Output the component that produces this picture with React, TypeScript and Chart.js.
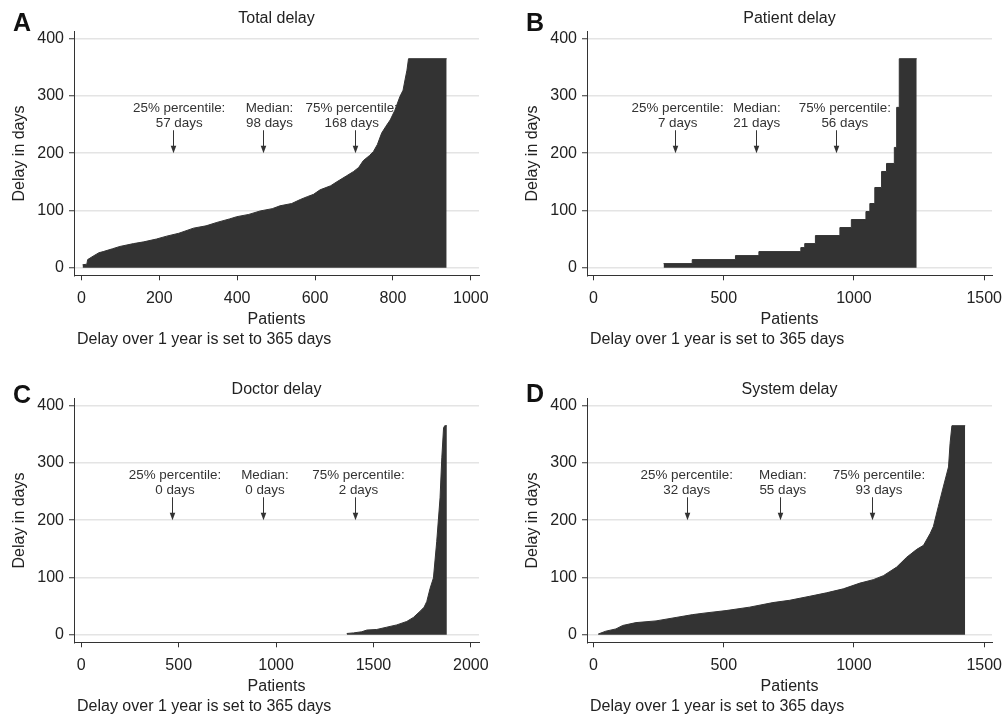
import React, { useEffect, useRef } from "react";
import { Chart, registerables } from "chart.js";

Chart.register(...registerables);

const FONT = "'Liberation Sans', Arial, Helvetica, sans-serif";
Chart.defaults.font.family = FONT;

// ---------- data ----------
const yTicks = [0, 100, 200, 300, 400];

const totalX = [3, 14, 16, 30, 45, 56, 80, 99, 134, 160, 193, 219, 250, 288, 320, 348, 380, 399, 430, 459, 490, 510, 540, 562, 580, 596, 613, 640, 656, 680, 699, 712, 724, 740, 750, 760, 771, 782, 793, 805, 818, 826, 831, 836, 840, 938];
const totalY = [5, 6, 14, 20, 26, 28, 33, 37, 42, 45, 50, 55, 60, 69, 73, 79, 85, 89, 93, 99, 103, 108, 112, 119, 124, 128, 136, 143, 150, 160, 168, 175, 187, 196, 203, 215, 235, 247, 258, 275, 299, 310, 328, 345, 365, 365];
const totalTicks = [0, 200, 400, 600, 800, 1000];
const totalArrowX = [234, 467, 702];
const totalLabelX = [251, 483, 694];
const totalValues = ["57 days", "98 days", "168 days"];

const patientX = [269, 379, 545, 635, 796, 811, 852, 946, 990, 1046, 1061, 1080, 1106, 1125, 1155, 1164, 1174, 1241];
const patientY = [7, 14, 21, 28, 35, 42, 56, 70, 84, 98, 112, 140, 168, 182, 210, 280, 365, 365];
const patientTicks = [0, 500, 1000, 1500];
const patientArrowX = [313, 622, 930];
const patientLabelX = [323, 627, 965];
const patientValues = ["7 days", "21 days", "56 days"];

const doctorX = [1363, 1397, 1440, 1466, 1517, 1568, 1620, 1671, 1705, 1740, 1760, 1774, 1791, 1808, 1825, 1842, 1851, 1860, 1866, 1877];
const doctorY = [2, 3, 5, 8, 9, 13, 17, 23, 30, 41, 48, 58, 81, 99, 163, 239, 309, 361, 365, 365];
const doctorTicks = [0, 500, 1000, 1500, 2000];
const doctorArrowX = [466, 935, 1404];
const doctorLabelX = [481, 943, 1423];
const doctorValues = ["0 days", "0 days", "2 days"];

const systemX = [18, 47, 86, 112, 163, 240, 317, 381, 432, 509, 599, 689, 753, 830, 894, 959, 1023, 1074, 1113, 1164, 1202, 1241, 1267, 1293, 1305, 1324, 1343, 1363, 1369, 1376, 1427];
const systemY = [1, 6, 10, 16, 21, 24, 30, 35, 38, 42, 48, 56, 60, 67, 73, 80, 90, 96, 103, 118, 135, 149, 156, 177, 189, 224, 258, 293, 334, 365, 365];
const systemTicks = [0, 500, 1000, 1500];
const systemArrowX = [359, 715, 1070];
const systemLabelX = [358, 727, 1096];
const systemValues = ["32 days", "55 days", "93 days"];

const percentileNames = ["25% percentile:", "Median:", "75% percentile:"];
const arrowTopValue = 240;
const arrowTipValue = 200;
const footnote = "Delay over 1 year is set to 365 days";

// ---------- layout ----------
const CW = 489;
const CH = 351;
const CHART_TOP = 31.7;
const CHART_BOTTOM = 275.3;
const FS = 16;

type PanelProps = {
  letter: string;
  title: string;
  xs: number[];
  ys: number[];
  stepped: boolean;
  xMin: number;
  xMax: number;
  xTicks: number[];
  arrowX: number[];
  labelX: number[];
  values: string[];
  ox: number;
  oy: number;
  titleTop: number;
  letterTop: number;
};

function Panel(p: PanelProps) {
  const ref = useRef<HTMLCanvasElement | null>(null);
  useEffect(() => {
    if (!ref.current) return;
    const annot = {
      id: "percentiles",
      afterDatasetsDraw(chart: any) {
        const { ctx, scales } = chart;
        const xs = scales.x;
        const ysc = scales.y;
        ctx.save();
        const top = ysc.getPixelForValue(arrowTopValue);
        const tip = ysc.getPixelForValue(arrowTipValue);
        for (let i = 0; i < p.arrowX.length; i++) {
          const ax = Math.round(xs.getPixelForValue(p.arrowX[i])) + 0.5;
          ctx.strokeStyle = "#333";
          ctx.fillStyle = "#333";
          ctx.lineWidth = 1;
          ctx.beginPath();
          ctx.moveTo(ax, top);
          ctx.lineTo(ax, tip - 3);
          ctx.stroke();
          ctx.beginPath();
          ctx.moveTo(ax, tip);
          ctx.lineTo(ax - 2.8, tip - 7.5);
          ctx.lineTo(ax + 2.8, tip - 7.5);
          ctx.closePath();
          ctx.fill();
          const lx = xs.getPixelForValue(p.labelX[i]);
          ctx.font = `13.4px ${FONT}`;
          ctx.textAlign = "center";
          ctx.textBaseline = "middle";
          ctx.fillStyle = "#333";
          const l2 = top - 7;
          const l1 = l2 - 14.5;
          ctx.fillText(percentileNames[i], lx, l1);
          ctx.fillText(p.values[i], lx, l2);
        }
        ctx.restore();
      },
    };
    const lh = FS * 1.2;
    const titleBottom = CHART_TOP - p.titleTop - lh;
    const tickFont = { family: FONT, size: FS, lineHeight: 1.2 };
    const chart = new Chart(ref.current, {
      type: "line",
      data: {
        datasets: [
          {
            data: p.xs.map((x, i) => ({ x, y: p.ys[i] })),
            borderColor: "#333",
            backgroundColor: "#333",
            borderWidth: 1,
            pointRadius: 0,
            fill: "origin",
            stepped: p.stepped ? "before" : false,
            tension: 0,
          },
        ],
      },
      options: {
        animation: false,
        responsive: false,
        maintainAspectRatio: false,
        layout: { padding: { left: 0, right: 10, top: 0, bottom: CH - CHART_BOTTOM - 54.7 } },
        plugins: {
          legend: { display: false },
          tooltip: { enabled: false },
          title: {
            display: true,
            text: p.title,
            fullSize: false,
            color: "#222",
            font: { family: FONT, size: FS, weight: "normal", lineHeight: 1.2 },
            padding: { top: p.titleTop, bottom: titleBottom },
          },
        },
        scales: {
          x: {
            type: "linear",
            min: p.xMin,
            max: p.xMax,
            afterBuildTicks: (s: any) => {
              s.ticks = p.xTicks.map((v) => ({ value: v }));
            },
            afterFit: (s: any) => {
              s.height = 54.7;
              s.paddingLeft = 0;
              s.paddingRight = 0;
            },
            grid: {
              display: true,
              drawOnChartArea: false,
              drawTicks: true,
              tickLength: 5,
              tickColor: "#333",
              tickWidth: 1,
            },
            border: { display: true, color: "#333", width: 1 },
            ticks: {
              color: "#222",
              font: tickFont,
              padding: 9,
              maxRotation: 0,
              autoSkip: false,
              callback: (v: any) => String(v),
            },
            title: {
              display: true,
              text: "Patients",
              color: "#222",
              font: tickFont,
              padding: { top: 0, bottom: 1 },
            },
          },
          y: {
            type: "linear",
            min: -13.4,
            max: 412.2,
            afterBuildTicks: (s: any) => {
              s.ticks = yTicks.map((v) => ({ value: v }));
            },
            afterFit: (s: any) => {
              s.width = 74;
              s.paddingTop = 0;
              s.paddingBottom = 0;
            },
            grid: {
              color: "#e4e4e4",
              lineWidth: 1.5,
              tickLength: 5,
              tickColor: "#333",
              tickWidth: 1,
            },
            border: { display: true, color: "#333", width: 1 },
            ticks: { color: "#222", font: tickFont, padding: 5, callback: (v: any) => String(v) },
            title: {
              display: true,
              text: "Delay in days",
              color: "#222",
              font: tickFont,
              padding: { top: 9.5, bottom: 0 },
            },
          },
        },
      },
      plugins: [annot],
    } as any);
    return () => chart.destroy();
  }, []);

  return (
    <>
      <canvas
        ref={ref}
        width={CW}
        height={CH}
        style={{ position: "absolute", left: p.ox, top: p.oy, width: CW, height: CH }}
      />
      <div
        style={{
          position: "absolute",
          left: p.ox + 13,
          top: p.letterTop,
          font: `bold 25px ${FONT}`,
          lineHeight: "25px",
          color: "#111",
        }}
      >
        {p.letter}
      </div>
      <div
        style={{
          position: "absolute",
          left: p.ox + 77,
          top: p.oy + 330,
          font: `${FS}px ${FONT}`,
          lineHeight: "18px",
          color: "#222",
          whiteSpace: "nowrap",
        }}
      >
        {footnote}
      </div>
    </>
  );
}

export default function App() {
  return (
    <div style={{ position: "absolute", left: 0, top: 0, width: 1002, height: 718, background: "#fff", overflow: "hidden" }}>
      <Panel letter="A" title="Total delay" xs={totalX} ys={totalY} stepped={false} xMin={-19} xMax={1021} xTicks={totalTicks} arrowX={totalArrowX} labelX={totalLabelX} values={totalValues} ox={0} oy={0} titleTop={8.7} letterTop={9.5} />
      <Panel letter="B" title="Patient delay" xs={patientX} ys={patientY} stepped={true} xMin={-25} xMax={1530} xTicks={patientTicks} arrowX={patientArrowX} labelX={patientLabelX} values={patientValues} ox={513} oy={0} titleTop={8.7} letterTop={10} />
      <Panel letter="C" title="Doctor delay" xs={doctorX} ys={doctorY} stepped={false} xMin={-37.5} xMax={2042} xTicks={doctorTicks} arrowX={doctorArrowX} labelX={doctorLabelX} values={doctorValues} ox={0} oy={367} titleTop={12.7} letterTop={381.5} />
      <Panel letter="D" title="System delay" xs={systemX} ys={systemY} stepped={false} xMin={-25} xMax={1530} xTicks={systemTicks} arrowX={systemArrowX} labelX={systemLabelX} values={systemValues} ox={513} oy={367} titleTop={12.7} letterTop={381} />
    </div>
  );
}
